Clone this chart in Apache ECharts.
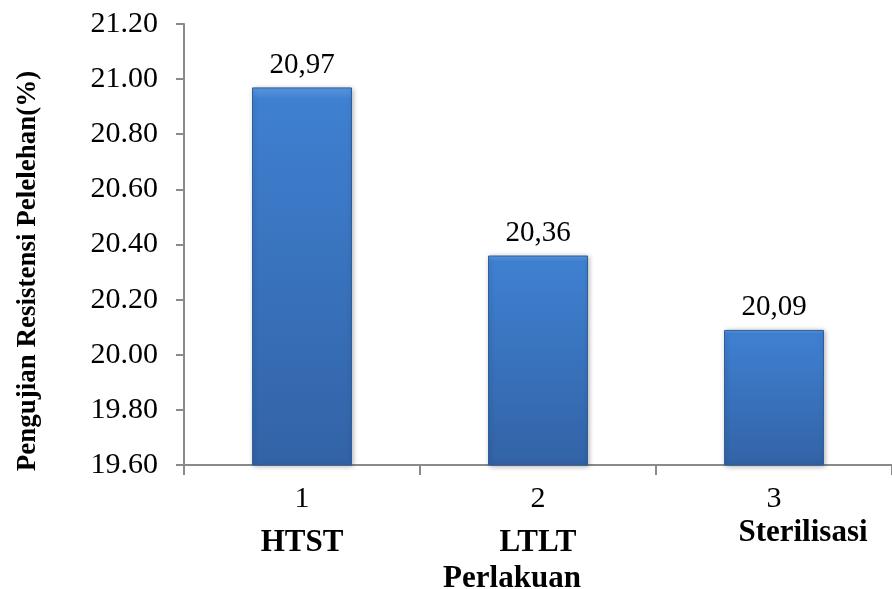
<!DOCTYPE html>
<html><head><meta charset="utf-8">
<script src="https://cdn.jsdelivr.net/npm/echarts@6/dist/echarts.min.js"></script>
<style>html,body{margin:0;padding:0;background:#fff}#c{width:892px;height:589px}</style>
</head><body><div id="c"></div>
<script>
const categories = ['1', '2', '3'];
const treatments = ['HTST', 'LTLT', 'Sterilisasi'];
const values = [20.97, 20.36, 20.09];
const yTicks = { min: 19.6, max: 21.2, step: 0.2 };
const yTitle = 'Pengujian Resistensi Pelelehan(%)';
const xTitle = 'Perlakuan';

const font = '"Liberation Serif", "Times New Roman", serif';
const chart = echarts.init(document.getElementById('c'));
chart.setOption({
  animation: false,
  backgroundColor: '#fff',
  grid: { left: 184, top: 24, width: 719, height: 441, containLabel: false },
  xAxis: {
    type: 'category',
    data: categories.map((c, i) => c + '\n' + treatments[i]),
    axisLine: { lineStyle: { color: '#8a8a8a', width: 2 } },
    axisTick: { show: true, length: 10, lineStyle: { color: '#8a8a8a', width: 2 } },
    axisLabel: {
      margin: 19,
      formatter: function (v) {
        const p = v.split('\n');
        const style = p[1] === 'Sterilisasi' ? 's' : 'b';
        return '{n|' + p[0] + '}\n{' + style + '|' + p[1] + '}';
      },
      rich: {
        n: { fontFamily: font, fontSize: 30, color: '#000', lineHeight: 30 },
        b: { fontFamily: font, fontSize: 31, fontWeight: 'bold', color: '#000', lineHeight: 58 },
        s: { fontFamily: font, fontSize: 31, fontWeight: 'bold', color: '#000', lineHeight: 38, padding: [0, 0, 0, 58] }
      }
    }
  },
  yAxis: {
    type: 'value',
    min: yTicks.min, max: yTicks.max, interval: yTicks.step,
    splitLine: { show: false },
    axisLine: { show: true, lineStyle: { color: '#8a8a8a', width: 2 } },
    axisTick: { show: true, length: 8, lineStyle: { color: '#8a8a8a', width: 2 } },
    axisLabel: {
      margin: 26,
      fontFamily: font, fontSize: 30, color: '#000',
      formatter: v => v.toFixed(2)
    }
  },
  graphic: [
    {
      type: 'text',
      rotation: Math.PI / 2,
      x: 28, y: 271,
      style: { text: yTitle, fontFamily: font, fontSize: 27, fontWeight: 'bold', fill: '#000', textAlign: 'center', textVerticalAlign: 'middle' }
    },
    {
      type: 'text',
      style: { text: xTitle, fontFamily: font, fontSize: 31, fontWeight: 'bold', fill: '#000', textAlign: 'center', textVerticalAlign: 'middle' },
      x: 512, y: 579
    }
  ],
  series: [{
    type: 'bar',
    data: values,
    barWidth: 100,
    itemStyle: {
      color: {
        type: 'linear', x: 0, y: 0, x2: 0, y2: 1,
        colorStops: [
          { offset: 0, color: '#5d9ce6' },
          { offset: 0.03, color: '#3f80d1' },
          { offset: 1, color: '#3263a6' }
        ]
      },
      borderColor: '#2f5e9c', borderWidth: 1,
      shadowColor: 'rgba(0,0,0,0.3)', shadowBlur: 5, shadowOffsetX: 1, shadowOffsetY: 1
    },
    label: {
      show: true, position: 'top', distance: 8,
      fontFamily: font, fontSize: 29, color: '#000',
      formatter: p => p.value.toFixed(2).replace('.', ',')
    }
  }]
});
</script>
</body></html>
